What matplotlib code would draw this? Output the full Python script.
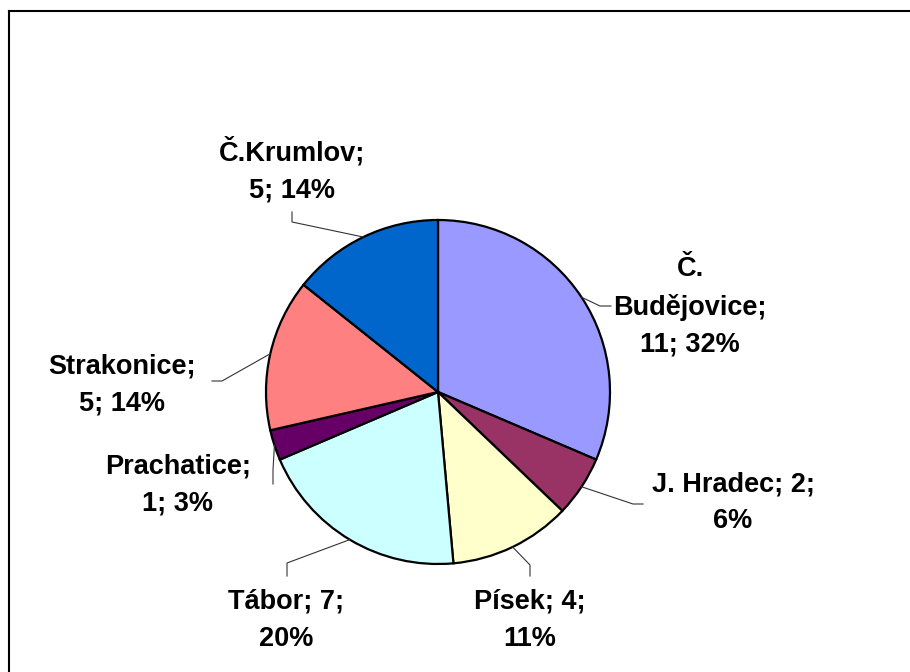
import numpy as np
import matplotlib
matplotlib.use("Agg")
import matplotlib.pyplot as plt

plt.rcParams['font.family'] = ['Liberation Sans', 'DejaVu Sans']

districts = ['Č.\nBudějovice', 'J. Hradec', 'Písek', 'Tábor', 'Prachatice', 'Strakonice', 'Č.Krumlov']
counts = [11, 2, 4, 7, 1, 5, 5]
pct_labels = ['32%', '6%', '11%', '20%', '3%', '14%', '14%']
colors = ['#9999FF', '#993366', '#FFFFCC', '#CCFFFF', '#660066', '#FF8080', '#0066CC']

# label text position (pixels from top-left) and elbow of the leader line
label_pos = [(690, 307), (733, 503), (530, 620), (286, 620), (178, 485), (122, 385), (292, 170)]
elbows = [((600, 306), (611, 306)), ((633, 504), (643, 504)), ((530, 565), (530, 576)),
          ((287, 563), (287, 576)), ((273, 470), (273, 484)), ((222, 381), (212, 381)),
          ((292, 222), (292, 212))]
two_line_first = ['J. Hradec', 'Písek', 'Tábor']

W, H = 910, 672
fig = plt.figure(figsize=(W / 100, H / 100), dpi=100)
ax = fig.add_axes([0, 0, 1, 1])

cx, cy, r = 438, H - 392, 172
wedges, _ = ax.pie(counts, colors=colors, startangle=90, counterclock=False,
                   center=(cx, cy), radius=r, frame=True,
                   wedgeprops=dict(edgecolor='black', linewidth=1.6))
ax.set_xlim(0, W)
ax.set_ylim(0, H)
ax.set_aspect('equal')
ax.axis('off')

for w, name, n, pct, (tx, ty), (e1, e2) in zip(wedges, districts, counts, pct_labels, label_pos, elbows):
    mid = np.deg2rad((w.theta1 + w.theta2) / 2)
    px, py = cx + r * np.cos(mid), cy + r * np.sin(mid)
    ax.plot([px, e1[0], e2[0]], [py, H - e1[1], H - e2[1]], color='#333333', lw=0.8)
    if name in two_line_first:
        txt = f'{name}; {n};\n{pct}'
    else:
        txt = f'{name};\n{n}; {pct}'
    ax.text(tx, H - ty, txt, ha='center', va='center', fontsize=19.5,
            fontweight='bold', linespacing=1.55)

# chart area frame (only left and top edges visible in the crop)
fig.add_artist(plt.Line2D([9 / W, 9 / W], [0, 1 - 11 / H], color='black', lw=1.5, transform=fig.transFigure))
fig.add_artist(plt.Line2D([9 / W, 1], [1 - 11 / H, 1 - 11 / H], color='black', lw=1.5, transform=fig.transFigure))

fig.savefig('out.png', dpi=100)
